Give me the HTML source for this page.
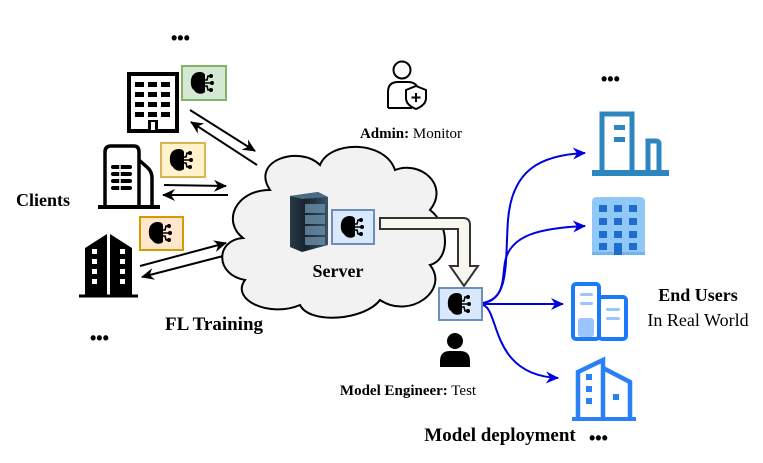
<!DOCTYPE html>
<html><head><meta charset="utf-8"><style>
html,body{margin:0;padding:0;background:#fff;}
svg{display:block;font-family:"Liberation Serif",serif;}
</style></head><body>
<svg width="763" height="463" viewBox="0 0 763 463" xmlns="http://www.w3.org/2000/svg">
<defs>
<marker id="ab" markerWidth="13" markerHeight="12" refX="12" refY="6" orient="auto" markerUnits="userSpaceOnUse"><path d="M0,0 L13,6 L0,12 L4,6 z" fill="#000"/></marker>
<marker id="ablue" markerWidth="13" markerHeight="12" refX="12" refY="6" orient="auto" markerUnits="userSpaceOnUse"><path d="M0,0 L13,6 L0,12 L4,6 z" fill="#0000e0"/></marker>
<g id="brain">
<path d="M-9,-8 C-6,-12 2,-12 3,-8 L3,9 C0,12 -6,11 -8,7 C-12,5 -12,-5 -9,-8 z" fill="#000"/>
<path d="M2,-3 L5,-3 L6,-7 L8,-7 M2,0 L9,0 M2,3 L5,3 L6,7 L8,7" stroke="#000" stroke-width="1.6" fill="none"/>
<circle cx="9" cy="-7" r="2" fill="#000"/><circle cx="10" cy="0" r="2" fill="#000"/><circle cx="9" cy="7" r="2" fill="#000"/>
</g>
</defs>

<g font-family="Liberation Sans" font-weight="bold" font-size="18">
<text x="171" y="44">•••</text>
<text x="90" y="344">•••</text>
<text x="601" y="85">•••</text>
<text x="589" y="444">•••</text>
</g>

<g>
<rect x="129" y="74" width="48" height="57" fill="#fff" stroke="#000" stroke-width="4"/>
<g fill="#000">
<rect x="135" y="82" width="9" height="5"/><rect x="148" y="82" width="9" height="5"/><rect x="161" y="82" width="9" height="5"/>
<rect x="135" y="92" width="9" height="5"/><rect x="148" y="92" width="9" height="5"/><rect x="161" y="92" width="9" height="5"/>
<rect x="135" y="102" width="9" height="5"/><rect x="148" y="102" width="9" height="5"/><rect x="161" y="102" width="9" height="5"/>
<rect x="135" y="112" width="9" height="5"/><rect x="148" y="112" width="9" height="5"/><rect x="161" y="112" width="9" height="5"/>
</g>
<rect x="148" y="120" width="10" height="12" fill="#000"/>
<rect x="151" y="122" width="4" height="8" fill="#fff"/>
</g>
<rect x="182" y="66" width="44" height="34" fill="#d5e8d4" stroke="#82b366" stroke-width="2"/>
<use href="#brain" x="202" y="83"/>

<path d="M105,205 L105,152 Q105,146 111,146 L134,146 Q139,146 139,152 L139,205" fill="#fff" stroke="#000" stroke-width="3.5"/>
<path d="M139,160 L148,168 Q152,172 152,178 L152,205" fill="none" stroke="#000" stroke-width="3.5"/>
<line x1="98" y1="207" x2="160" y2="207" stroke="#000" stroke-width="4"/>
<g fill="#000">
<rect x="111" y="165" width="21" height="4" rx="2"/><rect x="111" y="172" width="21" height="4" rx="2"/><rect x="111" y="179" width="21" height="4" rx="2"/><rect x="111" y="186" width="21" height="4" rx="2"/>
</g>
<line x1="120" y1="165" x2="120" y2="190" stroke="#fff" stroke-width="1.5"/>
<rect x="161" y="143" width="44" height="34" fill="#fff2cc" stroke="#d6b656" stroke-width="2"/>
<use href="#brain" x="181" y="160"/>

<path d="M85,295 L85,248 L107,234 L107,295 z M110,295 L110,234 L132,248 L132,295 z" fill="#000"/>
<line x1="79" y1="296" x2="138" y2="296" stroke="#000" stroke-width="3"/>
<g fill="#fff">
<rect x="92" y="249" width="5" height="5"/><rect x="92" y="259" width="5" height="5"/><rect x="92" y="269" width="5" height="5"/><rect x="92" y="279" width="5" height="5"/>
<rect x="120" y="249" width="5" height="5"/><rect x="120" y="259" width="5" height="5"/><rect x="120" y="269" width="5" height="5"/><rect x="120" y="279" width="5" height="5"/>
</g>
<rect x="140" y="217" width="43" height="33" fill="#ffe6cc" stroke="#d79b00" stroke-width="2"/>
<use href="#brain" x="160" y="233"/>

<g stroke="#000" stroke-width="2" fill="none">
<line x1="190" y1="110" x2="255" y2="151" marker-end="url(#ab)"/>
<line x1="257" y1="165" x2="191" y2="122" marker-end="url(#ab)"/>
<line x1="164" y1="185" x2="226" y2="186" marker-end="url(#ab)"/>
<line x1="228" y1="195" x2="163" y2="195" marker-end="url(#ab)"/>
<line x1="140" y1="266" x2="226" y2="243" marker-end="url(#ab)"/>
<line x1="227" y1="255" x2="142" y2="277" marker-end="url(#ab)"/>
</g>

<path d="M270,190 C250,160 300,145 320,165 C330,140 385,140 395,170 C420,160 450,185 430,210 C450,225 450,260 430,265 C450,290 410,320 380,300 C365,320 310,325 300,305 C270,318 230,300 245,280 C215,275 215,240 243,238 C222,222 235,190 270,190 z" fill="#f2f2f2" stroke="#000" stroke-width="2"/>

<defs><linearGradient id="sg" x1="0" x2="1"><stop offset="0" stop-color="#2a3a48"/><stop offset="0.4" stop-color="#17222c"/><stop offset="1" stop-color="#3a5468"/></linearGradient></defs>
<path d="M290,196 L318,192 L328,197 L328,245 L302,252 L290,247 z" fill="url(#sg)"/>
<path d="M290,196 L318,192 L328,197 L302,199 z" fill="#4a6b80"/>
<g fill="#6a8ea8" opacity="0.8">
<rect x="305" y="204" width="20" height="9"/><rect x="305" y="215" width="20" height="9"/><rect x="305" y="226" width="20" height="9"/><rect x="305" y="237" width="20" height="8"/>
</g>
<rect x="332" y="210" width="42" height="34" fill="#dae8fc" stroke="#6c8ebf" stroke-width="2"/>
<use href="#brain" x="352" y="227"/>
<text x="338" y="277" font-weight="bold" font-size="18" text-anchor="middle">Server</text>

<path d="M380,218 L463,218 Q470,218 470,225 L470,266 L478,266 L464,286 L450,266 L458,266 L458,229 L380,229 z" fill="#f8f6ee" stroke="#333" stroke-width="2"/>

<rect x="439" y="288" width="43" height="32" fill="#dae8fc" stroke="#6c8ebf" stroke-width="2"/>
<use href="#brain" x="459" y="304"/>

<circle cx="455" cy="341" r="8" fill="#000"/>
<path d="M440,367 L440,361 Q440,351 450,351 L460,351 Q470,351 470,361 L470,367 z" fill="#000"/>
<text x="408" y="395" font-size="15" text-anchor="middle"><tspan font-weight="bold">Model Engineer:</tspan> Test</text>
<text x="500" y="441" font-size="19" font-weight="bold" text-anchor="middle">Model deployment</text>

<circle cx="402" cy="70" r="8.5" fill="#fff" stroke="#000" stroke-width="2"/>
<path d="M388,108 L388,92 Q388,82 398,82 L408,82 Q414,82 417,86" fill="none" stroke="#000" stroke-width="2"/>
<line x1="388" y1="108" x2="412" y2="108" stroke="#000" stroke-width="2"/>
<path d="M416,86 L426,90 L426,98 Q426,105 416,109 Q406,105 406,98 L406,90 z" fill="#fff" stroke="#000" stroke-width="2"/>
<path d="M416,93 L416,102 M411.5,97.5 L420.5,97.5" stroke="#000" stroke-width="2"/>
<text x="411" y="138" font-size="15" text-anchor="middle"><tspan font-weight="bold">Admin:</tspan> Monitor</text>

<text x="16" y="206" font-size="18" font-weight="bold">Clients</text>
<text x="165" y="330" font-size="19" font-weight="bold">FL Training</text>
<text x="698" y="301" font-size="18" font-weight="bold" text-anchor="middle">End Users</text>
<text x="698" y="326" font-size="18" text-anchor="middle">In Real World</text>

<g stroke="#0000e0" stroke-width="2" fill="none">
<path d="M483,303 C510,300 505,260 508,220 C512,170 540,155 585,153" marker-end="url(#ablue)"/>
<path d="M483,303 C505,298 502,280 505,262 C510,235 540,228 585,226" marker-end="url(#ablue)"/>
<path d="M483,304 L563,304" marker-end="url(#ablue)"/>
<path d="M483,305 C500,310 490,375 558,378" marker-end="url(#ablue)"/>
</g>

<g fill="none" stroke="#2e86c1" stroke-width="5">
<path d="M602,173 L602,114 L632,114 L632,173"/>
<path d="M648,173 L648,141 L656,141 Q659,141 659,144 L659,173"/>
</g>
<rect x="592" y="170" width="77" height="6" fill="#2e86c1"/>
<rect x="614" y="125" width="11" height="5" fill="#2e86c1"/><rect x="614" y="137" width="11" height="5" fill="#2e86c1"/>

<path d="M592,255 L592,202 Q592,197 597,197 L640,197 Q645,197 645,202 L645,255 z" fill="#90c8f8"/>
<rect x="592" y="252" width="53" height="3" fill="#74b4ee"/>
<g fill="#1e6ccc">
<rect x="599" y="205" width="8" height="7"/><rect x="614" y="205" width="8" height="7"/><rect x="629" y="205" width="8" height="7"/>
<rect x="599" y="218" width="8" height="7"/><rect x="614" y="218" width="8" height="7"/><rect x="629" y="218" width="8" height="7"/>
<rect x="599" y="231" width="8" height="7"/><rect x="614" y="231" width="8" height="7"/><rect x="629" y="231" width="8" height="7"/>
<rect x="599" y="243" width="8" height="7"/><rect x="629" y="243" width="8" height="7"/>
<rect x="614" y="243" width="8" height="12"/>
</g>

<g fill="none" stroke="#1a7af8" stroke-width="4">
<rect x="573" y="284" width="26" height="55" rx="3"/>
<rect x="599" y="297" width="27" height="42" rx="3"/>
</g>
<rect x="578" y="318" width="16" height="19" rx="3" fill="#9cc4ff"/>
<g fill="#9cc4ff"><rect x="580" y="293" width="13" height="3" rx="1.5"/><rect x="580" y="302" width="13" height="3" rx="1.5"/><rect x="606" y="308" width="14" height="3" rx="1.5"/><rect x="606" y="317" width="14" height="3" rx="1.5"/></g>

<g fill="none" stroke="#2a80f5" stroke-width="4.5">
<path d="M578,418 L578,372 L603,360 L603,418"/>
<path d="M603,368 L630,382 L630,418"/>
</g>
<line x1="572" y1="419" x2="636" y2="419" stroke="#2a80f5" stroke-width="4"/>
<g fill="#2a80f5"><rect x="586" y="374" width="6" height="6"/><rect x="586" y="386" width="6" height="6"/><rect x="586" y="398" width="6" height="6"/><rect x="613" y="394" width="6" height="6"/></g>
</svg>
</body></html>
